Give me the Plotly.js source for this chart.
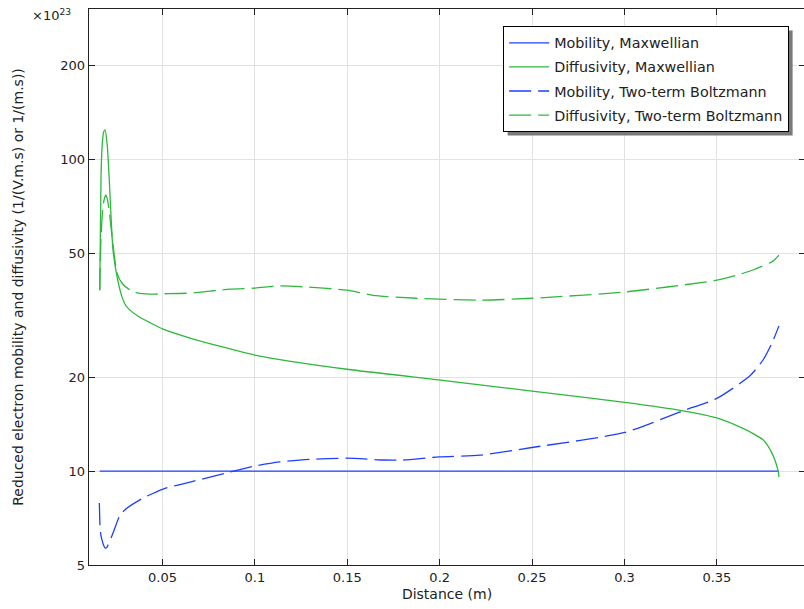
<!DOCTYPE html>
<html>
<head>
<meta charset="utf-8">
<script src="https://cdn.plot.ly/plotly-3.0.1.min.js"></script>
<style>
html,body{margin:0;padding:0;overflow:hidden;background:#fff;}
#chart{width:806px;height:609px;}
</style>
</head>
<body>
<div id="chart"></div>
<script>
// Data (values in units of 1e23)
const mobMaxX = [0.0160, 0.3836];
const mobMaxY = [10, 10];

const difMaxX = [0.0160, 0.0167, 0.0173, 0.0181, 0.0189, 0.0200, 0.0211, 0.0222, 0.0232, 0.0254, 0.0281, 0.0300, 0.0324, 0.0370, 0.0432, 0.0503, 0.0649, 0.1006, 0.1498, 0.1996, 0.2218, 0.2499, 0.3002, 0.3316, 0.3500, 0.3641, 0.3701, 0.3750, 0.3777, 0.3798, 0.3814, 0.3826, 0.3833, 0.3836];
const difMaxY = [38.0, 88.0, 110, 122, 124, 112, 87.6, 64.0, 51.1, 41.9, 36.1, 34.0, 32.8, 31.3, 29.9, 28.5, 26.7, 23.5, 21.2, 19.6, 18.9, 18.05, 16.6, 15.6, 14.8, 13.7, 13.14, 12.6, 12.02, 11.42, 10.85, 10.3, 9.93, 9.57];

const mobTwoX = [0.0158, 0.0162, 0.0167, 0.0173, 0.0181, 0.0189, 0.0197, 0.0205, 0.0232, 0.0270, 0.0308, 0.0394, 0.0503, 0.0649, 0.0865, 0.1006, 0.1136, 0.1298, 0.1498, 0.1693, 0.1801, 0.1996, 0.2218, 0.2499, 0.3002, 0.3316, 0.3500, 0.3679, 0.3750, 0.3798, 0.3836];
const mobTwoY = [7.9, 6.6, 6.2, 6.0, 5.78, 5.67, 5.68, 5.79, 6.33, 7.23, 7.61, 8.19, 8.76, 9.22, 9.93, 10.4, 10.7, 10.9, 11.0, 10.85, 10.85, 11.1, 11.25, 11.9, 13.3, 15.6, 17.1, 20.2, 22.7, 25.7, 29.2];

const difTwoX = [0.0160, 0.0167, 0.0178, 0.0189, 0.0194, 0.0200, 0.0211, 0.0227, 0.0254, 0.0281, 0.0340, 0.0432, 0.0503, 0.0649, 0.0865, 0.1001, 0.1136, 0.1282, 0.1498, 0.1639, 0.1877, 0.2218, 0.2499, 0.3002, 0.3500, 0.3600, 0.3695, 0.3804, 0.3836];
const difTwoY = [38.0, 56.0, 71.0, 76.0, 76.7, 75.0, 68.6, 56.2, 43.1, 40.0, 37.5, 36.9, 37.0, 37.2, 38.3, 38.6, 39.2, 38.9, 38.0, 36.6, 35.8, 35.3, 35.8, 37.5, 40.9, 42.3, 44.1, 47.1, 49.2];

const yTicks = [5, 10, 20, 50, 100, 200];
const yTickText = ['5', '10', '20', '50', '100', '200'];
const xTicks = [0.05, 0.1, 0.15, 0.2, 0.25, 0.3, 0.35];
const xTickText = ['0.05', '0.1', '0.15', '0.2', '0.25', '0.3', '0.35'];

const names = ['Mobility, Maxwellian', 'Diffusivity, Maxwellian', 'Mobility, Two-term Boltzmann', 'Diffusivity, Two-term Boltzmann'];

const BLUE = '#1f3fff';
const GREEN = '#2cb93c';
const DASH = '22px,7px';

const traces = [
  {x: mobMaxX, y: mobMaxY, name: names[0], mode: 'lines', legendgroup: 'a', line: {color: BLUE, width: 1.3}},
  {x: difMaxX, y: difMaxY, name: names[1], mode: 'lines', legendgroup: 'b', line: {color: GREEN, width: 1.3, shape: 'spline', smoothing: 0.6}},
  {x: mobTwoX, y: mobTwoY, name: names[2], mode: 'lines', legendgroup: 'c', line: {color: BLUE, width: 1.3, dash: DASH, shape: 'spline', smoothing: 0.6}},
  {x: difTwoX, y: difTwoY, name: names[3], mode: 'lines', legendgroup: 'd', line: {color: GREEN, width: 1.3, dash: DASH, shape: 'spline', smoothing: 0.6}}
];

const FONT = 'DejaVu Sans, sans-serif';
const W = 806, H = 609, ML = 89, MR = 1, MT = 9, MB = 44;
const layout = {
  width: W, height: H,
  margin: {l: ML, r: MR, t: MT, b: MB},
  paper_bgcolor: '#fff', plot_bgcolor: '#fff',
  font: {family: FONT, size: 13, color: '#222'},
  showlegend: true,
  legend: {
    x: 0.5784, y: 0.9694, xanchor: 'left', yanchor: 'top',
    bgcolor: '#fff', bordercolor: '#000', borderwidth: 1,
    font: {family: FONT, size: 14.3, color: '#222'},
    tracegroupgap: 2.5, itemwidth: 40
  },
  xaxis: {
    range: [0.0102, 0.3977],
    tickvals: xTicks, ticktext: xTickText,
    showgrid: true, gridcolor: '#e2e2e2', gridwidth: 1,
    zeroline: false,
    showline: true, linecolor: '#222', linewidth: 1.3,
    mirror: 'ticks', ticks: 'inside', ticklen: 6, tickcolor: '#222',
    title: {text: 'Distance (m)', font: {family: FONT, size: 14, color: '#222'}, standoff: 5},
    tickfont: {family: FONT, size: 13, color: '#222'}
  },
  yaxis: {
    type: 'log',
    range: [Math.log10(5), Math.log10(302.7)],
    tickvals: yTicks, ticktext: yTickText,
    showgrid: true, gridcolor: '#e2e2e2', gridwidth: 1,
    zeroline: false,
    showline: true, linecolor: '#222', linewidth: 1.3,
    mirror: 'ticks', ticks: 'inside', ticklen: 6, tickcolor: '#222',
    title: {text: 'Reduced electron mobility and diffusivity (1/(V.m.s) or 1/(m.s))', font: {family: FONT, size: 14, color: '#222'}, standoff: 33},
    tickfont: {family: FONT, size: 13, color: '#222'}
  },
  annotations: [
    {xref: 'paper', yref: 'paper', x: -0.0826, y: 1.0066, xanchor: 'left', yanchor: 'top',
     text: '×10<sup>23</sup>', showarrow: false, font: {family: FONT, size: 13, color: '#222'}}
  ]
};

Plotly.newPlot('chart', traces, layout, {displayModeBar: false, staticPlot: true}).then(function (gd) {
  // add a drop shadow behind the legend box
  const bg = gd.querySelector('.legend .bg');
  if (!bg) return;
  const r = bg.getBoundingClientRect();
  const c = gd.getBoundingClientRect();
  const pw = W - ML - MR, ph = H - MT - MB;
  const off = 4;
  const x0 = (r.left - c.left + off - ML) / pw;
  const x1 = (r.right - c.left + off - ML) / pw;
  const y1 = (H - MB - (r.top - c.top + off)) / ph;
  const y0 = (H - MB - (r.bottom - c.top + off)) / ph;
  return Plotly.relayout(gd, {shapes: [{type: 'rect', xref: 'paper', yref: 'paper', x0: x0, x1: x1, y0: y0, y1: y1,
    fillcolor: '#7a7a7a', line: {width: 0}, layer: 'above'}]});
});
</script>
</body>
</html>
